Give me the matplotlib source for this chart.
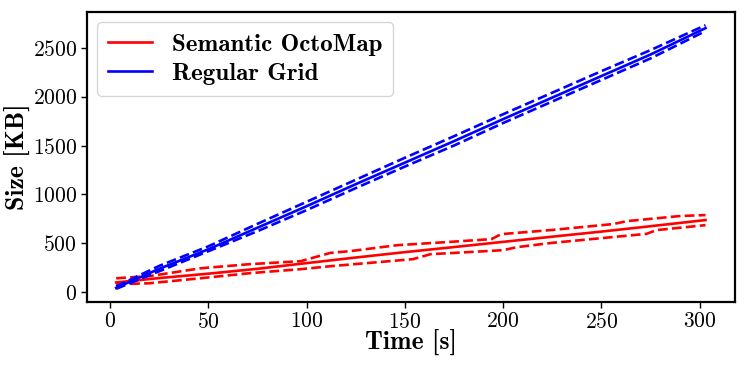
import numpy as np
import matplotlib.pyplot as plt

plt.rcParams['mathtext.fontset'] = 'cm'
plt.rcParams['axes.formatter.use_mathtext'] = True

# Semantic OctoMap (red): mean and upper/lower bounds
red_t = [3, 25, 50, 75, 100, 125, 150, 175, 200, 225, 250, 275, 303]
red_mean = [100, 145, 190, 240, 298, 355, 410, 462, 515, 568, 620, 675, 738]

red_up_t = [3, 20, 46, 71, 97, 112, 122, 146, 173, 194, 199, 224, 256, 263, 290, 303]
red_up = [143, 165, 245, 287, 318, 402, 420, 481, 515, 543, 594, 635, 697, 727, 779, 789]

red_lo_t = [3, 20, 46, 71, 97, 112, 154, 163, 200, 207, 225, 273, 278, 303]
red_lo = [82, 92, 143, 195, 236, 266, 338, 389, 430, 461, 505, 597, 635, 686]

# Regular Grid (blue)
blue_t = [3, 25, 50, 75, 100, 125, 150, 175, 200, 225, 250, 275, 303]
blue_mean = [45, 240, 440, 660, 880, 1105, 1325, 1545, 1770, 1990, 2210, 2430, 2700]
blue_up = [60, 270, 470, 700, 925, 1150, 1375, 1595, 1820, 2040, 2260, 2475, 2730]
blue_lo = [35, 215, 420, 625, 840, 1065, 1285, 1500, 1730, 1950, 2170, 2390, 2670]

fig = plt.figure(figsize=(7.48, 3.67), dpi=100)
ax = fig.add_axes([0.1159, 0.1771, 0.8667, 0.7902])

lw = 1.9
ax.plot(red_t, red_mean, color='red', lw=lw, label='Semantic OctoMap')
ax.plot(red_up_t, red_up, color='red', lw=lw, ls='--')
ax.plot(red_lo_t, red_lo, color='red', lw=lw, ls='--')
ax.plot(blue_t, blue_mean, color='blue', lw=lw, label='Regular Grid')
ax.plot(blue_t, blue_up, color='blue', lw=lw, ls='--')
ax.plot(blue_t, blue_lo, color='blue', lw=lw, ls='--')

ax.set_xticks([0, 50, 100, 150, 200, 250, 300])
ax.set_yticks([0, 500, 1000, 1500, 2000, 2500])

for s in ax.spines.values():
    s.set_linewidth(1.6)
ax.tick_params(width=1.0, length=4, pad=3)
for lab in ax.get_xticklabels() + ax.get_yticklabels():
    lab.set_fontfamily('cmr10')
    lab.set_fontsize(15.5)

ax.set_xlabel('Time [s]', fontfamily='cmb10', fontsize=18.5, va='baseline')
ax.set_ylabel('Size [KB]', fontfamily='cmb10', fontsize=18.5, va='center')
ax.xaxis.set_label_coords(0.5, -0.165)
ax.yaxis.set_label_coords(-0.106, 0.5)

leg = ax.legend(loc='upper left', prop={'family': 'cmb10', 'size': 18},
                handlelength=1.75, handletextpad=0.8, borderpad=0.45,
                labelspacing=0.25, borderaxespad=0.4)

fig.savefig('out.png', dpi=100)
